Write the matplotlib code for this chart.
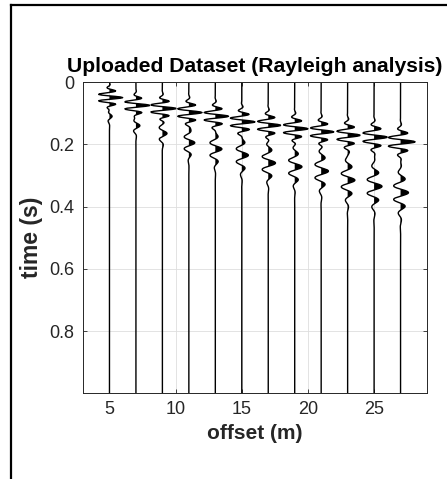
import numpy as np
import matplotlib
matplotlib.use("Agg")
import matplotlib.pyplot as plt
from matplotlib.lines import Line2D

plt.rcParams["font.family"] = ["Liberation Sans", "DejaVu Sans"]

# Receiver offsets (m)
offsets = [5, 7, 9, 11, 13, 15, 17, 19, 21, 23, 25, 27]

# Early, high-frequency surface-wave packet on each trace
main_time = [0.050, 0.075, 0.085, 0.098, 0.110, 0.128, 0.139, 0.150, 0.160, 0.171, 0.177, 0.192]
main_amp = [1.00, 1.05, 1.05, 1.00, 1.00, 1.00, 0.95, 1.00, 0.95, 0.95, 1.00, 1.10]
main_period = [0.022, 0.024, 0.024, 0.025, 0.025, 0.025, 0.026, 0.026, 0.026, 0.027, 0.028, 0.029]
main_width = [0.025, 0.025, 0.028, 0.030, 0.030, 0.032, 0.032, 0.032, 0.032, 0.034, 0.034, 0.034]

# Later, lower-frequency dispersive tail on each trace
tail_time = [0.110, 0.140, 0.165, 0.195, 0.215, 0.235, 0.260, 0.272, 0.286, 0.315, 0.335, 0.355]
tail_amp = [0.20, 0.30, 0.35, 0.45, 0.50, 0.50, 0.55, 0.55, 0.55, 0.55, 0.60, 0.60]
tail_period = [0.035, 0.038, 0.040, 0.040, 0.042, 0.043, 0.043, 0.043, 0.044, 0.044, 0.045, 0.045]
tail_width = [0.020, 0.025, 0.030, 0.040, 0.045, 0.050, 0.050, 0.050, 0.055, 0.060, 0.060, 0.060]

dt = 0.002
t = np.arange(0.0, 0.998 + dt / 2, dt)


def packet(tc, amp, period, width):
    return amp * np.exp(-((t - tc) / width) ** 2) * np.cos(2 * np.pi * (t - tc) / period)


fig = plt.figure(figsize=(4.47, 4.79), dpi=100)
ax = fig.add_axes([0.1857, 0.1795, 0.7696, 0.6493])

for i, x0 in enumerate(offsets):
    trace = (packet(main_time[i], main_amp[i], main_period[i], main_width[i])
             + packet(tail_time[i], tail_amp[i], tail_period[i], tail_width[i]))
    ax.fill_betweenx(t, x0, x0 + trace, where=trace > 0, interpolate=True,
                     color="black", linewidth=0)
    ax.plot(x0 + trace, t, color="black", linewidth=1.0)

ax.set_xlim(3, 29)
ax.set_ylim(0.998, 0)
ax.set_xticks([5, 10, 15, 20, 25])
ax.set_yticks([0, 0.2, 0.4, 0.6, 0.8])
ax.set_yticklabels(["0", "0.2", "0.4", "0.6", "0.8"])

tick_gray = "#262626"
ax.tick_params(direction="in", length=3, width=0.6, colors=tick_gray,
               labelsize=13, top=True, right=True, pad=6)
for s in ax.spines.values():
    s.set_color("#262626")
    s.set_linewidth(0.7)
ax.grid(True, color="#dedede", linewidth=0.6)
ax.set_axisbelow(True)

ax.set_title("Uploaded Dataset (Rayleigh analysis)", fontsize=15.2,
             fontweight="bold", pad=7)
ax.set_xlabel("offset (m)", fontsize=15, fontweight="bold", color="#262626", labelpad=4)
ax.set_ylabel("time (s)", fontsize=16.5, fontweight="bold", color="#262626", labelpad=5)

# Frame lines along the top and left edges of the figure
W, H = 447, 479
fig.add_artist(Line2D([11 / W, 11 / W], [0, 1 - 5 / H], color="black",
                      linewidth=1.6, transform=fig.transFigure))
fig.add_artist(Line2D([11 / W, 1], [1 - 5 / H, 1 - 5 / H], color="black",
                      linewidth=1.6, transform=fig.transFigure))

fig.savefig("out.png", dpi=100)
